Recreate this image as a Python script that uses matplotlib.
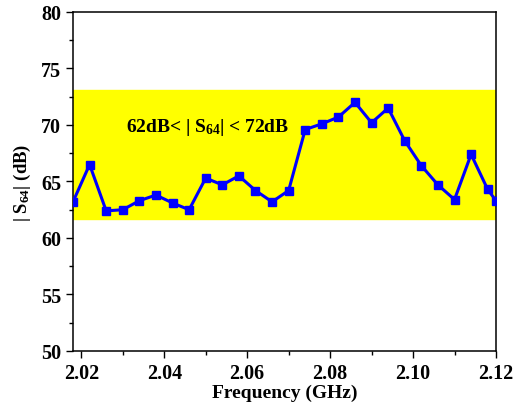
import matplotlib
matplotlib.use('Agg')
import matplotlib.pyplot as plt
from matplotlib.ticker import MultipleLocator

plt.rcParams['font.family'] = 'Liberation Serif'
plt.rcParams['font.weight'] = 'bold'
plt.rcParams['mathtext.fontset'] = 'custom'
plt.rcParams['mathtext.rm'] = 'Liberation Serif:bold'
plt.rcParams['mathtext.it'] = 'Liberation Serif:bold'
plt.rcParams['mathtext.bf'] = 'Liberation Serif:bold'

# frequency points (GHz) and measured |S64| (dB)
freq = [2.018, 2.022, 2.026, 2.030, 2.034, 2.038, 2.042, 2.046, 2.050, 2.054,
        2.058, 2.062, 2.066, 2.070, 2.074, 2.078, 2.082, 2.086, 2.090, 2.094,
        2.098, 2.102, 2.106, 2.110, 2.114, 2.118, 2.120]
s64 = [63.2, 66.5, 62.4, 62.5, 63.3, 63.8, 63.1, 62.5, 65.3, 64.7,
       65.5, 64.2, 63.2, 64.2, 69.6, 70.1, 70.7, 72.0, 70.2, 71.5,
       68.6, 66.4, 64.7, 63.4, 67.4, 64.3, 63.3]
band_low = 61.7
band_high = 73.1
xticks = [2.02, 2.04, 2.06, 2.08, 2.10, 2.12]

fig = plt.figure(figsize=(5.2, 4.1), dpi=100)
ax = fig.add_axes([0.1404, 0.1415, 0.8134, 0.8268])

ax.axhspan(band_low, band_high, color='#ffff00', zorder=0)
ax.plot(freq, s64, color='#0000ff', linewidth=2.2, marker='s', markersize=5.8,
        zorder=3)

ax.text(2.0307, 69.9, r'62dB< | S$_{64}$| < 72dB', fontsize=14,
        fontweight='bold', va='center', ha='left')

ax.set_xlim(2.018, 2.12)
ax.set_ylim(50, 80)
ax.set_xticks(xticks)
ax.set_xticklabels(['%.2f' % t for t in xticks])
ax.xaxis.set_minor_locator(MultipleLocator(0.01))
ax.yaxis.set_major_locator(MultipleLocator(5))
ax.yaxis.set_minor_locator(MultipleLocator(2.5))
ax.tick_params(which='major', direction='out', length=5, width=1, labelsize=14.5)
ax.tick_params(which='minor', direction='out', length=3, width=1)
ax.tick_params(top=False, right=False, which='both')
for sp in ax.spines.values():
    sp.set_linewidth(1.1)

ax.set_xlabel('Frequency (GHz)', fontsize=14, fontweight='bold', labelpad=1)
ax.set_ylabel(r'| S$_{64}$| (dB)', fontsize=13.5, fontweight='bold', labelpad=6)

plt.savefig('out.png', dpi=100)
